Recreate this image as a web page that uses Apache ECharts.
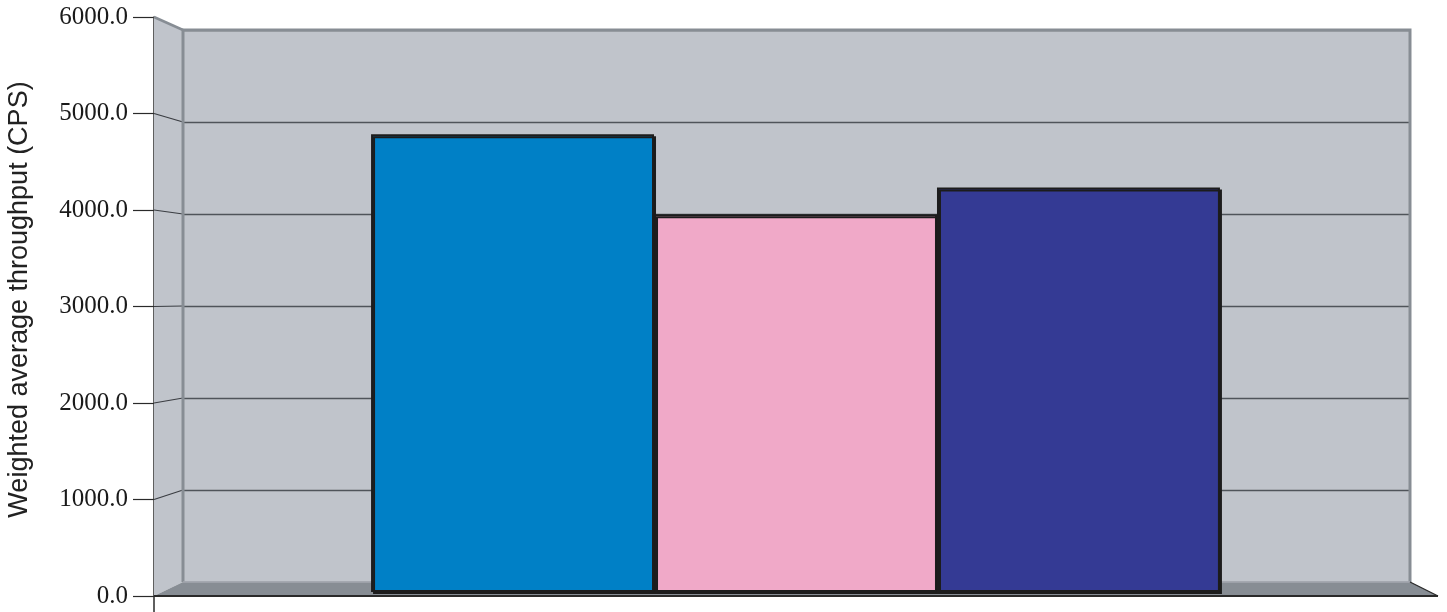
<!DOCTYPE html>
<html>
<head>
<meta charset="utf-8">
<title>Weighted average throughput</title>
<script src="https://cdn.jsdelivr.net/npm/echarts@6/dist/echarts.min.js"></script>
<style>
  html, body { margin: 0; padding: 0; background: #ffffff; }
  #chart { width: 1447px; height: 612px; }
</style>
</head>
<body>
<div id="chart"></div>
<script>
// Chart data
const categories = [''];
const seriesNames = ['Series 1', 'Series 2', 'Series 3'];
const seriesValues = [[4810], [3970], [4250]];
const seriesColors = ['#0080c6', '#f0a9c8', '#343a94'];
const yTicks = [0, 1000, 2000, 3000, 4000, 5000, 6000];
const yTitle = 'Weighted average throughput (CPS)';

const Y_MIN = yTicks[0];
const Y_MAX = yTicks[yTicks.length - 1];
const Y_STEP = yTicks[1] - yTicks[0];

const wallColor = '#c0c4cb';
const floorColor = '#878d94';
const edgeColor = '#878d94';
const inkColor = '#2a2a2a';

const chart = echarts.init(document.getElementById('chart'), null, { renderer: 'canvas' });

// Grid 0: front plane (labelled axis), grid 1: back wall, grid 2: plane of the columns
const option = {
  animation: false,
  backgroundColor: '#ffffff',
  grid: [
    { left: 154, right: 9, top: 17, bottom: 16, outerBoundsMode: 'none', containLabel: false },
    { left: 183, right: 37, top: 30, bottom: 30, outerBoundsMode: 'none', containLabel: false,
      show: true, backgroundColor: wallColor, borderWidth: 0 },
    { left: 162, right: 18, top: 21, bottom: 20, outerBoundsMode: 'none', containLabel: false }
  ],
  xAxis: [
    { gridIndex: 0, type: 'value', min: 0, max: 1, show: false },
    { gridIndex: 1, type: 'value', min: 0, max: 1, show: false },
    { gridIndex: 2, type: 'category', data: categories, show: false }
  ],
  yAxis: [
    {
      gridIndex: 0, type: 'value', min: Y_MIN, max: Y_MAX, interval: Y_STEP,
      axisLine: { show: true, lineStyle: { color: inkColor, width: 1.5 } },
      axisTick: { show: true, inside: false, length: 21, lineStyle: { color: inkColor, width: 1.2 } },
      axisLabel: {
        margin: 26, color: '#1a1a1a', fontFamily: 'Liberation Serif', fontSize: 25,
        formatter: v => v.toFixed(1)
      },
      splitLine: { show: false },
      name: yTitle,
      nameLocation: 'middle',
      nameRotate: 90,
      nameGap: 121,
      nameTextStyle: {
        fontFamily: 'Liberation Sans', fontSize: 27, color: '#222222',
        padding: [0, 0, 0, 14]
      }
    },
    {
      gridIndex: 1, type: 'value', min: Y_MIN, max: Y_MAX, interval: Y_STEP,
      axisLine: { show: false }, axisTick: { show: false }, axisLabel: { show: false },
      splitLine: { show: true, lineStyle: { color: '#4f545a', width: 1.4 } }
    },
    { gridIndex: 2, type: 'value', min: Y_MIN, max: Y_MAX, show: false }
  ],
  series: seriesNames.map((name, i) => ({
    name: name,
    type: 'bar',
    xAxisIndex: 2,
    yAxisIndex: 2,
    data: seriesValues[i],
    barGap: '0%',
    barCategoryGap: '33%',
    z: 5,
    itemStyle: {
      color: seriesColors[i],
      borderColor: '#1c1c1c',
      borderWidth: 2,
      shadowColor: '#1c1c1c',
      shadowBlur: 0,
      shadowOffsetX: 2,
      shadowOffsetY: 2
    }
  }))
};

chart.setOption(option);

// Walls, floor and edges of the 3D frame, placed from the front and back axes
function frame() {
  const fx0 = chart.convertToPixel({ xAxisIndex: 0 }, 0);
  const fx1 = chart.convertToPixel({ xAxisIndex: 0 }, 1);
  const bx0 = chart.convertToPixel({ xAxisIndex: 1 }, 0);
  const bx1 = chart.convertToPixel({ xAxisIndex: 1 }, 1);
  const fy = v => chart.convertToPixel({ yAxisIndex: 0 }, v);
  const by = v => chart.convertToPixel({ yAxisIndex: 1 }, v);

  const els = [];
  // left side wall
  els.push({
    type: 'polygon', z: 1, silent: true,
    shape: { points: [[fx0, fy(Y_MAX)], [bx0, by(Y_MAX)], [bx0, by(Y_MIN)], [fx0, fy(Y_MIN)]] },
    style: { fill: wallColor }
  });
  // floor
  els.push({
    type: 'polygon', z: 1, silent: true,
    shape: { points: [[fx0, fy(Y_MIN)], [bx0, by(Y_MIN)], [bx1, by(Y_MIN)], [fx1, fy(Y_MIN)]] },
    style: { fill: floorColor }
  });
  // gridline runs across the side wall
  yTicks.forEach(v => {
    if (v === Y_MIN || v === Y_MAX) return;
    els.push({
      type: 'line', z: 2, silent: true,
      shape: { x1: fx0, y1: fy(v), x2: bx0, y2: by(v) },
      style: { stroke: '#3a3d42', lineWidth: 1.2 }
    });
  });
  // top edge of side wall
  els.push({
    type: 'line', z: 2, silent: true,
    shape: { x1: fx0, y1: fy(Y_MAX), x2: bx0, y2: by(Y_MAX) },
    style: { stroke: edgeColor, lineWidth: 2.5 }
  });
  // back wall edges
  els.push({
    type: 'polyline', z: 2, silent: true,
    shape: { points: [[bx0, by(Y_MIN)], [bx0, by(Y_MAX)], [bx1, by(Y_MAX)], [bx1, by(Y_MIN)]] },
    style: { stroke: edgeColor, lineWidth: 3, fill: null }
  });
  // floor/back wall seam
  els.push({
    type: 'line', z: 2, silent: true,
    shape: { x1: bx0, y1: by(Y_MIN), x2: bx1, y2: by(Y_MIN) },
    style: { stroke: '#a4a9b0', lineWidth: 1.5 }
  });
  // right edge of floor
  els.push({
    type: 'line', z: 2, silent: true,
    shape: { x1: bx1, y1: by(Y_MIN), x2: fx1, y2: fy(Y_MIN) },
    style: { stroke: inkColor, lineWidth: 1.3 }
  });
  // front edge of floor
  els.push({
    type: 'line', z: 3, silent: true,
    shape: { x1: fx0, y1: fy(Y_MIN), x2: fx1, y2: fy(Y_MIN) },
    style: { stroke: inkColor, lineWidth: 2.2 }
  });
  // front vertical edge continues below the floor
  els.push({
    type: 'line', z: 3, silent: true,
    shape: { x1: fx0, y1: fy(Y_MIN), x2: fx0, y2: fy(Y_MIN) + 16 },
    style: { stroke: inkColor, lineWidth: 1.5 }
  });
  chart.setOption({ graphic: { elements: els } });
}
frame();
</script>
</body>
</html>
